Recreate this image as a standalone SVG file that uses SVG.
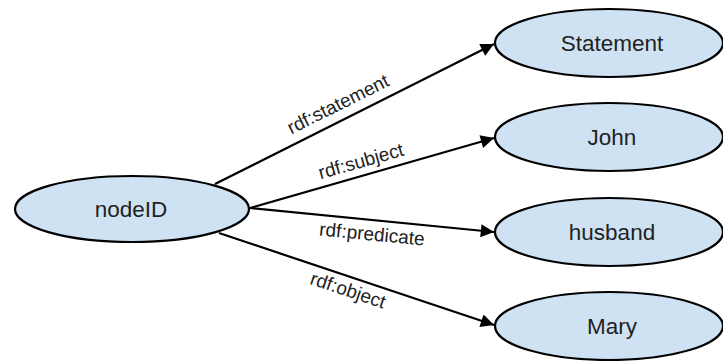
<svg xmlns="http://www.w3.org/2000/svg" width="723" height="361" viewBox="0 0 723 361">
<style>
.node ellipse{fill:#cfe2f3;stroke:#000;stroke-width:2.2}
.node text{font-family:"Liberation Sans",Arial,sans-serif;font-size:22.5px;fill:#222;text-anchor:middle;dominant-baseline:central}
.edge line{stroke:#000;stroke-width:2.2;marker-end:url(#arr)}
.edge text{font-family:"Liberation Sans",Arial,sans-serif;font-size:19px;fill:#222;text-anchor:middle;dominant-baseline:central}
</style>
<defs>
<marker id="arr" viewBox="0 0 10 10" refX="10" refY="5" markerWidth="8" markerHeight="6" markerUnits="strokeWidth" orient="auto">
<path d="M0,0 L10,5 L0,10 z" fill="#000"/>
</marker>
</defs>
<g id="connectors">
<g class="edge" id="e-statement"><line x1="215" y1="184" x2="494" y2="44"/><text transform="translate(338,104) rotate(-26.4)">rdf:statement</text></g>
<g class="edge" id="e-subject"><line x1="250" y1="208" x2="494" y2="138"/><text transform="translate(361,161) rotate(-15.8)">rdf:subject</text></g>
<g class="edge" id="e-predicate"><line x1="250" y1="208" x2="494" y2="232"/><text transform="translate(372,234) rotate(5.5)">rdf:predicate</text></g>
<g class="edge" id="e-object"><line x1="219" y1="233" x2="494" y2="325"/><text transform="translate(348,290) rotate(18.6)">rdf:object</text></g>
</g>
<g class="node" id="n-nodeID"><ellipse cx="132" cy="209" rx="117" ry="33"/><text x="131" y="209">nodeID</text></g>
<g class="node" id="n-statement"><ellipse cx="609" cy="43" rx="114" ry="34"/><text x="612" y="43">Statement</text></g>
<g class="node" id="n-john"><ellipse cx="609" cy="137" rx="114" ry="34"/><text x="612" y="137">John</text></g>
<g class="node" id="n-husband"><ellipse cx="609" cy="232" rx="114" ry="34"/><text x="612" y="232">husband</text></g>
<g class="node" id="n-mary"><ellipse cx="609" cy="326" rx="114" ry="34"/><text x="612" y="326">Mary</text></g>
</svg>
